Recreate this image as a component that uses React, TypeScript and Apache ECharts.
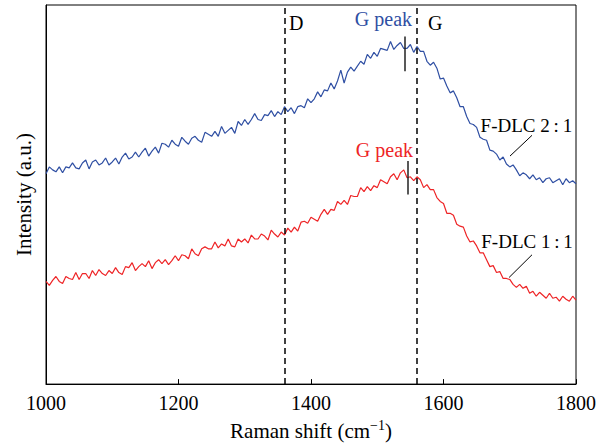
import React, { useEffect, useRef } from "react";
import * as echarts from "echarts";

// Raman shift sampling grid (cm^-1)
const shiftStart = 1000;
const shiftStep = 5;

// F-DLC 2:1 intensities (a.u.), one per 5 cm^-1 from 1000 to 1800
const fdlc21 = [
  213, 220, 217, 215, 220, 214, 220, 219, 224, 219, 218, 224, 227, 218, 225, 227, 222, 224, 229, 222,
  225, 229, 223, 230, 234, 228, 230, 235, 230, 235, 239, 231, 236, 240, 234, 244, 243, 240, 247, 243,
  241, 250, 246, 243, 249, 251, 247, 245, 255, 253, 251, 256, 251, 261, 254, 257, 260, 254, 266, 262,
  268, 263, 268, 274, 268, 267, 273, 272, 277, 271, 276, 273, 281, 276, 280, 274, 281, 282, 280, 289,
  285, 289, 296, 291, 298, 297, 305, 299, 307, 318, 305, 316, 321, 317, 322, 327, 324, 334, 330, 336,
  332, 340, 339, 338, 347, 339, 343, 346, 340, 340, 344, 336, 342, 337, 337, 327, 323, 326, 320, 309,
  310, 302, 295, 297, 290, 281, 281, 271, 264, 263, 260, 250, 248, 247, 237, 236, 233, 227, 230, 223,
  220, 222, 217, 211, 214, 212, 208, 212, 207, 209, 204, 208, 209, 204, 206, 208, 202, 208, 204, 206,
  203,
];

// F-DLC 1:1 intensities (a.u.)
const fdlc11 = [
  104, 100, 105, 109, 104, 102, 109, 107, 106, 113, 106, 112, 112, 107, 115, 110, 116, 112, 110, 115,
  112, 118, 113, 111, 119, 118, 123, 115, 119, 122, 119, 125, 117, 123, 126, 122, 126, 121, 125, 130,
  125, 131, 130, 127, 137, 132, 130, 137, 139, 137, 137, 144, 138, 142, 140, 147, 140, 139, 147, 144,
  147, 143, 151, 147, 147, 152, 150, 146, 156, 152, 149, 154, 151, 158, 154, 159, 155, 164, 165, 163,
  169, 167, 165, 172, 177, 172, 177, 176, 185, 182, 186, 182, 191, 190, 190, 199, 195, 200, 196, 201,
  199, 207, 205, 203, 210, 213, 207, 214, 217, 209, 210, 206, 210, 207, 199, 202, 197, 197, 189, 185,
  183, 173, 173, 171, 162, 160, 159, 150, 144, 145, 140, 133, 133, 126, 119, 120, 113, 114, 107, 107,
  106, 101, 98, 101, 97, 99, 92, 94, 89, 93, 90, 87, 92, 87, 88, 84, 89, 86, 84, 89,
  85,
];

// Reference band positions
const bandLines = [1360, 1560];
const bandNames = ["D", "G"];

// G peak markers: [shift, y from, y to]
const bluePeakMark = [1542, 317, 352];
const redPeakMark = [1546, 192, 226];

const BLUE = "#2f4fa3";
const RED = "#ee2426";
const FONT = "'Liberation Serif', 'Times New Roman', 'DejaVu Serif', serif";

export default function App() {
  const ref = useRef<HTMLDivElement>(null);

  useEffect(() => {
    if (!ref.current) return;
    const chart = echarts.init(ref.current, null, { renderer: "svg" });
    const toPairs = (arr: number[]) => arr.map((v, i) => [shiftStart + i * shiftStep, v]);

    const baseMarkLine = {
      silent: true,
      symbol: "none",
      label: { show: false },
    };

    chart.setOption({
      animation: false,
      textStyle: { fontFamily: FONT },
      grid: {
        left: 46,
        right: 30,
        top: 5,
        bottom: 57,
        show: true,
        borderColor: "#000",
        borderWidth: 1,
      },
      xAxis: {
        type: "value",
        min: 1000,
        max: 1800,
        interval: 200,
        axisLine: { lineStyle: { color: "#000", width: 1 } },
        axisTick: { inside: true, length: 5, lineStyle: { color: "#000" } },
        axisLabel: {
          color: "#000",
          fontSize: 20,
          fontFamily: FONT,
          margin: 9,
          formatter: (v: number) => String(v),
        },
        splitLine: { show: false },
        name: "{a|Raman shift (cm}{s|−1}{a|)}",
        nameLocation: "middle",
        nameGap: 33,
        nameTextStyle: {
          rich: {
            a: { fontSize: 21, fontFamily: FONT, color: "#000" },
            s: { fontSize: 14, fontFamily: FONT, color: "#000", padding: [0, 0, 11, 0] },
          },
        },
      },
      yAxis: {
        type: "value",
        min: 0,
        max: 384,
        axisLine: { show: true, lineStyle: { color: "#000", width: 1 } },
        axisTick: { show: false },
        axisLabel: { show: false },
        splitLine: { show: false },
        name: "Intensity (a.u.)",
        nameLocation: "middle",
        nameGap: 12,
        nameRotate: 90,
        nameTextStyle: { fontSize: 21, fontFamily: FONT, color: "#000" },
      },
      series: [
        {
          name: "F-DLC 2:1",
          type: "line",
          data: toPairs(fdlc21),
          showSymbol: false,
          lineStyle: { color: BLUE, width: 1.2 },
          markLine: {
            ...baseMarkLine,
            data: [
              ...bandLines.map((x) => ({
                xAxis: x,
                lineStyle: { color: "#000", type: [6, 4], width: 1.5 },
              })),
              [
                { coord: [bluePeakMark[0], bluePeakMark[1]], lineStyle: { color: "#222", type: "solid", width: 1.5 } },
                { coord: [bluePeakMark[0], bluePeakMark[2]] },
              ],
              [
                { coord: [1733.6, 252], lineStyle: { color: "#000", type: "solid", width: 1 } },
                { coord: [1700.4, 231] },
              ],
            ],
          },
        },
        {
          name: "F-DLC 1:1",
          type: "line",
          data: toPairs(fdlc11),
          showSymbol: false,
          lineStyle: { color: RED, width: 1.2 },
          markLine: {
            ...baseMarkLine,
            data: [
              [
                { coord: [redPeakMark[0], redPeakMark[1]], lineStyle: { color: "#222", type: "solid", width: 1.5 } },
                { coord: [redPeakMark[0], redPeakMark[2]] },
              ],
              [
                { coord: [1733.6, 131], lineStyle: { color: "#000", type: "solid", width: 1 } },
                { coord: [1699, 108] },
              ],
            ],
          },
        },
      ],
    });

    const px = (x: number, y: number) =>
      chart.convertToPixel({ xAxisIndex: 0, yAxisIndex: 0 }, [x, y]) as number[];

    const labels = [
      { t: bandNames[0], x: 1366.8, y: 366, align: "left", color: "#000", size: 20 },
      { t: bandNames[1], x: 1576.6, y: 366, align: "left", color: "#000", size: 20 },
      { t: "G peak", x: 1552.5, y: 370, align: "right", color: BLUE, size: 20 },
      { t: "G peak", x: 1554, y: 237, align: "right", color: RED, size: 20 },
      { t: "F-DLC 2\u2009:\u20091", x: 1656, y: 262, align: "left", color: "#000", size: 19 },
      { t: "F-DLC 1\u2009:\u20091", x: 1657, y: 144, align: "left", color: "#000", size: 19 },
    ];

    chart.setOption({
      graphic: labels.map((l) => {
        const p = px(l.x, l.y);
        return {
          type: "text",
          x: p[0],
          y: p[1],
          silent: true,
          style: {
            text: l.t,
            fill: l.color,
            fontSize: l.size,
            fontFamily: FONT,
            align: l.align,
            verticalAlign: "middle",
          },
        };
      }),
    });

    return () => chart.dispose();
  }, []);

  return (
    <div
      ref={ref}
      style={{ position: "absolute", left: 0, top: 0, width: 606, height: 446 }}
    />
  );
}
